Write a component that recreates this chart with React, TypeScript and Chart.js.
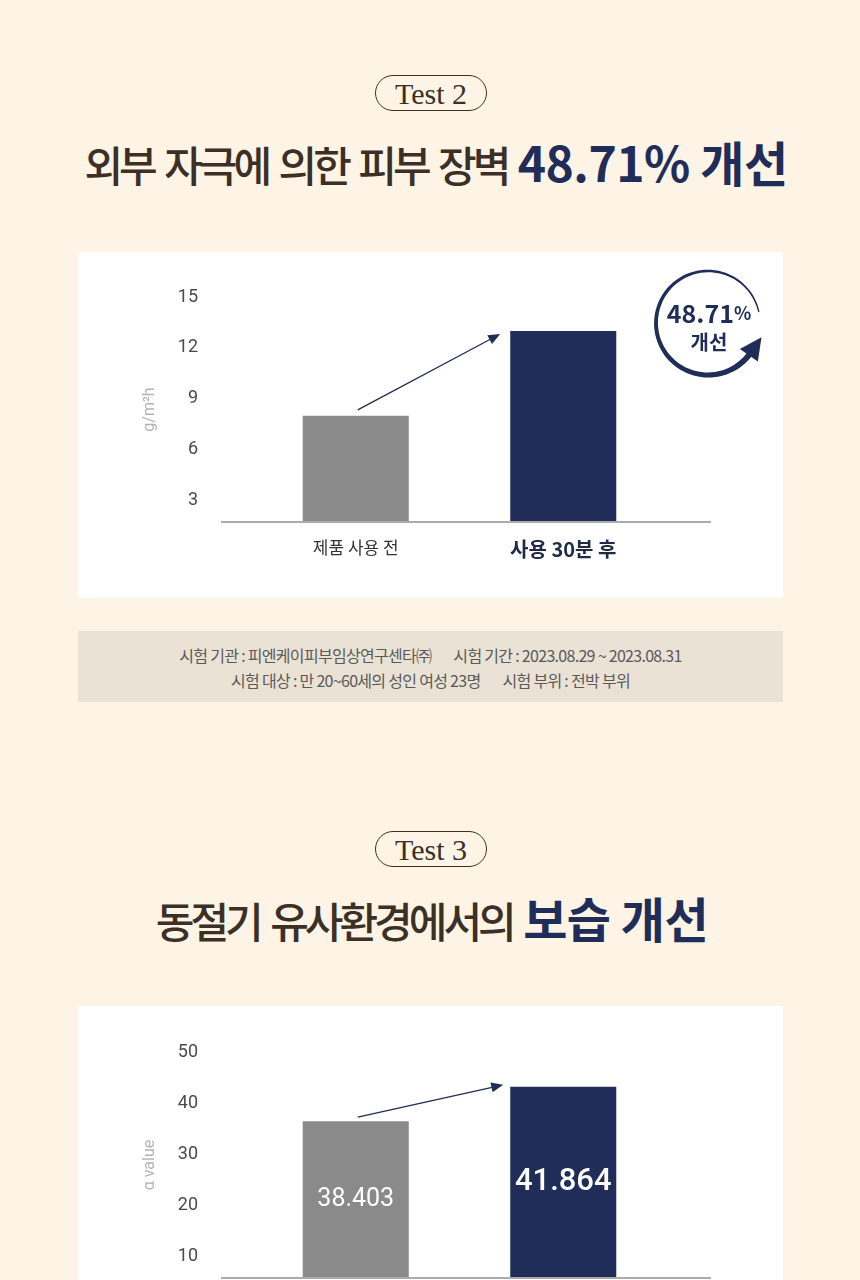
import React, { useEffect, useRef } from 'react';
import { Chart, registerables } from 'chart.js';

Chart.register(...registerables);

// ---------- data ----------
const chart1Categories = ['제품 사용 전', '사용 30분 후'];
const chart1Values = [8.0, 13.0];
const chart1Ticks = [3, 6, 9, 12, 15];
const chart1Unit = 'g/m²h';

const chart2Categories = ['제품 사용 전', '사용 30분 후'];
const chart2Values = [36.5, 43.2];
const chart2ValueLabels = ['38.403', '41.864'];
const chart2Ticks = [10, 20, 30, 40, 50];
const chart2Unit = 'α value';

const test1Label = 'Test 2';
const title1Plain = '외부 자극에 의한 피부 장벽 ';
const title1Accent = '48.71% 개선';
const badgeNumber = '48.71';
const badgePercent = '%';
const badgeWord = '개선';
const infoLine1 = ['시험 기관 : 피엔케이피부임상연구센타㈜', '시험 기간 : 2023.08.29 ~ 2023.08.31'];
const infoLine2 = ['시험 대상 : 만 20~60세의 성인 여성 23명', '시험 부위 : 전박 부위'];

const test2Label = 'Test 3';
const title2Plain = '동절기 유사환경에서의 ';
const title2Accent = '보습 개선';

// ---------- styles ----------
const BG = '#FDF4E6';
const NAVY = '#1F2D58';
const BROWN = '#3B2F26';
const GREY_BAR = '#8A8A8A';
const KR = '"Noto Sans CJK KR", "Noto Sans", sans-serif';
const NUM = 'Roboto, "Liberation Sans", sans-serif';

type ArrowCfg = { sx: number; sy: number; ex: number; ey: number };

function BarChart(props: {
  categories: string[];
  values: number[];
  ticks: number[];
  min: number;
  max: number;
  unit: string;
  valueLabels?: string[];
  padTop: number;
  padBottom: number;
  arrow: ArrowCfg;
}) {
  const ref = useRef<HTMLCanvasElement>(null);
  useEffect(() => {
    const { categories, values, ticks, min, max, unit, valueLabels, padTop, padBottom, arrow } = props;
    const decor = {
      id: 'decor',
      afterDatasetsDraw(chart: any) {
        const { ctx, chartArea } = chart;
        const meta = chart.getDatasetMeta(0);
        const b1: any = meta.data[0];
        const b2: any = meta.data[1];
        ctx.save();
        // baseline
        ctx.strokeStyle = '#ABABAB';
        ctx.lineWidth = 2;
        ctx.beginPath();
        ctx.moveTo(chartArea.left - 31, chartArea.bottom);
        ctx.lineTo(chartArea.right + 44, chartArea.bottom);
        ctx.stroke();
        // arrow
        const sx = b1.x + arrow.sx;
        const sy = b1.y + arrow.sy;
        const ex = b2.x - b2.width / 2 + arrow.ex;
        const ey = b2.y + arrow.ey;
        const len = Math.hypot(ex - sx, ey - sy);
        const dx = (ex - sx) / len;
        const dy = (ey - sy) / len;
        ctx.strokeStyle = NAVY;
        ctx.fillStyle = NAVY;
        ctx.lineWidth = 1.3;
        ctx.beginPath();
        ctx.moveTo(sx, sy);
        ctx.lineTo(ex - dx * 8, ey - dy * 8);
        ctx.stroke();
        const hl = 12;
        const hw = 5;
        ctx.beginPath();
        ctx.moveTo(ex, ey);
        ctx.lineTo(ex - dx * hl - dy * hw, ey - dy * hl + dx * hw);
        ctx.lineTo(ex - dx * hl + dy * hw, ey - dy * hl - dx * hw);
        ctx.closePath();
        ctx.fill();
        // value labels, centred in the visible part of each bar
        if (valueLabels) {
          ctx.fillStyle = '#FFFFFF';
          ctx.textAlign = 'center';
          ctx.textBaseline = 'middle';
          meta.data.forEach((b: any, i: number) => {
            ctx.font = i === 1 ? `500 31px ${NUM}` : `400 25px ${NUM}`;
            ctx.fillText(valueLabels[i], b.x, (b.y + chartArea.bottom) / 2);
          });
        }
        ctx.restore();
      },
    };
    const chart = new Chart(ref.current as HTMLCanvasElement, {
      type: 'bar',
      data: {
        labels: categories,
        datasets: [
          {
            data: values,
            backgroundColor: [GREY_BAR, NAVY],
            borderWidth: 0,
            categoryPercentage: 1,
            barPercentage: 0.511,
          },
        ],
      },
      options: {
        responsive: false,
        animation: false,
        events: [],
        layout: { padding: { left: 0, right: 116, top: padTop, bottom: padBottom } },
        plugins: { legend: { display: false }, tooltip: { enabled: false } },
        scales: {
          x: {
            grid: { display: false, drawTicks: false },
            border: { display: false },
            ticks: {
              padding: 15,
              color: (c: any) => (c.index === 1 ? '#1F2A44' : '#333333'),
              font: (c: any) =>
                c.index === 1
                  ? { family: KR, size: 20, weight: 'bold' }
                  : { family: KR, size: 17, weight: 'normal' },
            },
            afterFit: (s: any) => {
              s.height = 60;
              s.paddingLeft = 0;
              s.paddingRight = 0;
            },
          },
          y: {
            min,
            max,
            afterBuildTicks: (s: any) => {
              s.ticks = ticks.map((v) => ({ value: v }));
            },
            grid: { display: false, drawTicks: false },
            border: { display: false },
            ticks: {
              padding: 54,
              color: '#4A4A4A',
              font: { family: NUM, size: 18, weight: 'normal' },
            },
            title: {
              display: true,
              text: unit,
              color: '#B3B3B3',
              font: { family: NUM, size: 16, weight: 'normal' },
              padding: { top: 62, bottom: 0 },
            },
            afterFit: (s: any) => {
              s.width = 174;
              s.paddingTop = 0;
              s.paddingBottom = 0;
            },
          },
        },
      },
      plugins: [decor],
    } as any);
    return () => chart.destroy();
  }, []);
  return <canvas ref={ref} width={705} height={346} style={{ display: 'block' }} />;
}

function Pill({ text, top }: { text: string; top: number }) {
  return (
    <div
      style={{
        position: 'absolute',
        left: 375,
        top,
        width: 112,
        height: 36,
        boxSizing: 'border-box',
        border: `1.5px solid ${BROWN}`,
        borderRadius: 18,
        display: 'flex',
        alignItems: 'center',
        justifyContent: 'center',
        fontFamily: '"Liberation Serif", "DejaVu Serif", serif',
        fontSize: 30,
        lineHeight: 1,
        color: BROWN,
      }}
    >
      <span style={{ position: 'relative', top: 1 }}>{text}</span>
    </div>
  );
}

function Title({ plain, accent, top, shift }: { plain: string; accent: string; top: number; shift: number }) {
  return (
    <div
      style={{
        position: 'absolute',
        left: shift,
        top,
        width: 860,
        textAlign: 'center',
        lineHeight: '60px',
        whiteSpace: 'nowrap',
        fontFamily: KR,
      }}
    >
      <span style={{ fontSize: 42, fontWeight: 500, color: BROWN, letterSpacing: '-4px', wordSpacing: '5px' }}>
        {plain}
      </span>
      <span style={{ fontSize: 48, fontWeight: 700, color: NAVY, letterSpacing: '-0.5px' }}>{accent}</span>
    </div>
  );
}

function Badge() {
  const cx = 68;
  const cy = 63;
  const r = 52;
  const a0 = -12;
  const a1 = -325;
  const N = 80;
  const outer: string[] = [];
  const inner: string[] = [];
  for (let i = 0; i <= N; i++) {
    const t = i / N;
    const a = ((a0 + (a1 - a0) * t) * Math.PI) / 180;
    const w = 1.3 + 4.5 * Math.pow(t, 0.9);
    outer.push(`${(cx + (r + w / 2) * Math.cos(a)).toFixed(2)},${(cy + (r + w / 2) * Math.sin(a)).toFixed(2)}`);
    inner.push(`${(cx + (r - w / 2) * Math.cos(a)).toFixed(2)},${(cy + (r - w / 2) * Math.sin(a)).toFixed(2)}`);
  }
  const arcPath = `M${outer.join(' L')} L${inner.reverse().join(' L')} Z`;
  const ae = (a1 * Math.PI) / 180;
  const exx = cx + r * Math.cos(ae);
  const eyy = cy + r * Math.sin(ae);
  const dx = Math.sin(ae);
  const dy = -Math.cos(ae);
  const nx = Math.cos(ae);
  const ny = Math.sin(ae);
  const tip = [exx + dx * 19, eyy + dy * 19];
  const bl = [exx - dx * 3 + nx * 11, eyy - dy * 3 + ny * 11];
  const br = [exx - dx * 3 - nx * 11, eyy - dy * 3 - ny * 11];
  const head = `M${tip[0]},${tip[1]} L${bl[0]},${bl[1]} L${br[0]},${br[1]} Z`;
  return (
    <svg
      width={140}
      height={130}
      style={{ position: 'absolute', left: 640, top: 260, overflow: 'visible' }}
    >
      <path d={arcPath} fill={NAVY} />
      <path d={head} fill={NAVY} />
      <text
        x={cx + 1}
        y={52}
        textAnchor="middle"
        dominantBaseline="central"
        fill={NAVY}
        style={{ fontFamily: KR, fontWeight: 700 }}
      >
        <tspan fontSize={25}>{badgeNumber}</tspan>
        <tspan fontSize={18}>{badgePercent}</tspan>
      </text>
      <text
        x={cx + 1}
        y={81}
        textAnchor="middle"
        dominantBaseline="central"
        fill={NAVY}
        style={{ fontFamily: KR, fontWeight: 700, fontSize: 20 }}
      >
        {badgeWord}
      </text>
    </svg>
  );
}

function InfoLine({ parts, top }: { parts: string[]; top: number }) {
  return (
    <div
      style={{
        position: 'absolute',
        left: 0,
        top,
        width: 705,
        textAlign: 'center',
        fontFamily: KR,
        fontSize: 16,
        lineHeight: '20px',
        letterSpacing: '-0.7px',
        color: '#5A5A5A',
        whiteSpace: 'nowrap',
      }}
    >
      <span>{parts[0]}</span>
      <span style={{ display: 'inline-block', width: 22 }} />
      <span>{parts[1]}</span>
    </div>
  );
}

export default function App() {
  return (
    <div
      style={{
        position: 'absolute',
        left: 0,
        top: 0,
        width: 860,
        height: 1280,
        overflow: 'hidden',
        background: BG,
      }}
    >
      <Pill text={test1Label} top={75} />
      <Title plain={title1Plain} accent={title1Accent} top={131} shift={6} />

      <div style={{ position: 'absolute', left: 78, top: 252, width: 705, height: 346, background: '#FFFFFF' }}>
        <BarChart
          categories={chart1Categories}
          values={chart1Values}
          ticks={chart1Ticks}
          min={1.75}
          max={15}
          unit={chart1Unit}
          padTop={45}
          padBottom={16}
          arrow={{ sx: 2, sy: -6, ex: -10, ey: 3 }}
        />
      </div>
      <Badge />

      <div style={{ position: 'absolute', left: 78, top: 631, width: 705, height: 71, background: '#EAE2D5' }}>
        <InfoLine parts={infoLine1} top={14} />
        <InfoLine parts={infoLine2} top={39} />
      </div>

      <Pill text={test2Label} top={831} />
      <Title plain={title2Plain} accent={title2Accent} top={887} shift={2} />

      <div style={{ position: 'absolute', left: 78, top: 1006, width: 705, height: 346, background: '#FFFFFF' }}>
        <BarChart
          categories={chart2Categories}
          values={chart2Values}
          ticks={chart2Ticks}
          min={5.9}
          max={50}
          unit={chart2Unit}
          valueLabels={chart2ValueLabels}
          padTop={46}
          padBottom={14}
          arrow={{ sx: 2, sy: -4, ex: -7, ey: -2 }}
        />
      </div>
    </div>
  );
}
